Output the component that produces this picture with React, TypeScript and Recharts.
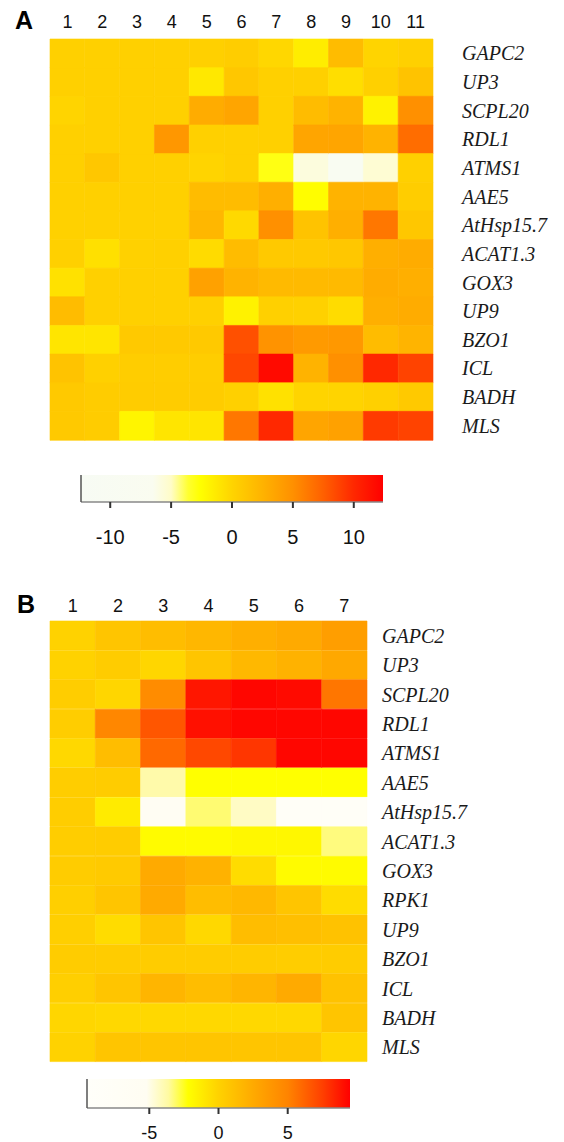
import React from 'react';
import { BarChart, Bar, XAxis, YAxis, Cell } from 'recharts';

// ---------- Data ----------
const genesA = ['GAPC2', 'UP3', 'SCPL20', 'RDL1', 'ATMS1', 'AAE5', 'AtHsp15.7', 'ACAT1.3', 'GOX3', 'UP9', 'BZO1', 'ICL', 'BADH', 'MLS'];
const colsA = ['1', '2', '3', '4', '5', '6', '7', '8', '9', '10', '11'];
const valuesA = [
  [0.3, 0.3, 0.3, 0.3, 0.3, 0.5, -0.2, -1.5, 1.8, 0.0, 0.3],
  [0.3, 0.3, 0.3, 0.3, -1.2, 1.0, 0.3, 0.3, -0.6, 0.3, 1.3],
  [0.0, 0.3, 0.3, 0.3, 3.0, 3.5, 0.3, 1.8, 2.5, -1.8, 5.0],
  [0.3, 0.3, 0.3, 4.5, 0.3, 0.3, 0.3, 3.5, 3.5, 2.5, 6.8],
  [0.3, 1.0, 0.3, 0.3, 0.0, 0.3, -3.0, -5.8, -9.0, -5.4, 0.3],
  [0.3, 0.3, 0.3, 0.3, 1.8, 1.8, 2.8, -2.5, 2.5, 2.5, 0.5],
  [0.2, 0.2, 0.2, 0.2, 2.2, -0.3, 5.0, 1.3, 2.8, 6.3, 1.0],
  [0.3, -0.7, 0.2, 0.3, -0.4, 1.8, 0.8, 0.8, 1.0, 2.8, 3.0],
  [-0.8, 0.3, 0.3, 0.3, 3.8, 2.5, 2.0, 2.0, 2.0, 3.0, 2.8],
  [1.8, 0.3, 0.3, 0.3, 0.3, -1.8, 0.3, 0.2, -0.5, 2.8, 3.0],
  [-1.0, -1.0, 0.8, 0.8, 0.8, 8.2, 4.8, 4.3, 4.4, 1.8, 2.4],
  [1.3, 0.3, 0.5, 0.5, 0.5, 8.6, 11.8, 2.5, 5.0, 10.0, 8.8],
  [0.8, 0.6, 0.6, 0.6, 0.6, 0.3, -0.8, 0.0, 0.0, 0.3, 0.8],
  [0.8, 0.6, -2.0, -1.0, -1.0, 6.3, 10.0, 3.5, 3.8, 9.2, 8.8],
];
const rangeA: [number, number] = [-12.4, 12.4];
const ticksA = [-10, -5, 0, 5, 10];

const genesB = ['GAPC2', 'UP3', 'SCPL20', 'RDL1', 'ATMS1', 'AAE5', 'AtHsp15.7', 'ACAT1.3', 'GOX3', 'RPK1', 'UP9', 'BZO1', 'ICL', 'BADH', 'MLS'];
const colsB = ['1', '2', '3', '4', '5', '6', '7'];
const valuesB = [
  [0.0, 0.8, 1.3, 1.7, 2.2, 2.5, 3.3],
  [0.0, 0.4, -0.2, 0.8, 1.6, 2.0, 2.6],
  [0.3, -0.2, 4.5, 8.8, 9.3, 9.2, 5.5],
  [0.3, 4.8, 6.7, 9.0, 9.3, 9.3, 9.3],
  [-0.3, 1.3, 6.0, 7.2, 7.8, 9.3, 9.3],
  [0.3, 0.4, -3.8, -2.2, -2.2, -2.2, -2.2],
  [0.3, -1.2, -6.0, -3.2, -4.3, -8.0, -8.0],
  [0.3, 0.4, -2.0, -2.0, -1.8, -1.8, -3.3],
  [0.4, 0.5, 2.5, 2.0, -0.5, -2.0, -2.0],
  [0.2, 0.8, 2.5, 1.3, 1.6, 0.8, -0.5],
  [0.2, -0.5, 0.8, -0.3, 1.3, 1.2, 1.0],
  [0.4, 0.4, 0.4, 0.4, 0.4, 0.3, 0.4],
  [0.2, 0.8, 1.8, 1.3, 1.8, 2.5, 1.0],
  [-0.2, -0.3, -0.3, -0.3, -0.3, -0.3, 0.8],
  [0.0, 0.8, 0.8, 0.8, 0.8, 0.8, -0.2],
];
const rangeB: [number, number] = [-9.5, 9.5];
const ticksB = [-5, 0, 5];

// ---------- Colour scales (style) ----------
type Stop = [number, string];
const stopsA: Stop[] = [
  [-12.4, '#f7fbf4'], [-6.5, '#fafcf0'], [-5.0, '#fffcc8'], [-3.6, '#ffff30'], [-2.6, '#ffff00'],
  [0, '#ffd400'], [2.5, '#ffb300'], [5, '#ff9000'], [7.5, '#ff6000'], [10, '#ff2800'], [12.4, '#ff0000'],
];
const stopsB: Stop[] = [
  [-9.5, '#fffffa'], [-5.2, '#fffdf2'], [-3.6, '#fffaa0'], [-2.2, '#ffff00'],
  [0, '#ffd200'], [2.5, '#ffaa00'], [5, '#ff8400'], [7.5, '#ff4000'], [9.5, '#ff0000'],
];

function hexToRgb(h: string) {
  return [parseInt(h.slice(1, 3), 16), parseInt(h.slice(3, 5), 16), parseInt(h.slice(5, 7), 16)];
}
function heatColor(v: number, stops: Stop[]) {
  if (v <= stops[0][0]) return stops[0][1];
  if (v >= stops[stops.length - 1][0]) return stops[stops.length - 1][1];
  for (let i = 0; i < stops.length - 1; i++) {
    const [v0, c0] = stops[i];
    const [v1, c1] = stops[i + 1];
    if (v >= v0 && v <= v1) {
      const t = (v - v0) / (v1 - v0);
      const a = hexToRgb(c0);
      const b = hexToRgb(c1);
      const m = a.map((x, k) => Math.round(x + (b[k] - x) * t));
      return `rgb(${m[0]},${m[1]},${m[2]})`;
    }
  }
  return stops[0][1];
}

const SANS = '"Liberation Sans", Arial, sans-serif';
const SERIF = '"Liberation Serif", "Times New Roman", serif';

function Heatmap(props: {
  genes: string[]; cols: string[]; values: number[][]; stops: Stop[];
  width: number; height: number; margin: any; xTickMargin: number; yTickMargin: number;
}) {
  const { genes, cols, values, stops, width, height, margin, xTickMargin, yTickMargin } = props;
  const data = genes.map((g, i) => {
    const row: any = { gene: g };
    cols.forEach((_, j) => {
      row['c' + j] = 1;
      row['v' + j] = values[i][j];
    });
    return row;
  });
  return (
    <BarChart layout="vertical" width={width} height={height} data={data} margin={margin} barCategoryGap={0}>
      <XAxis
        type="number"
        orientation="top"
        domain={[0, cols.length]}
        ticks={cols.map((_, j) => j + 0.5)}
        tickFormatter={(v: number) => cols[Math.floor(v)]}
        interval={0}
        axisLine={false}
        tickLine={false}
        tickSize={0}
        tickMargin={xTickMargin}
        height={30}
        tick={{ fontSize: 18, fill: '#111', fontFamily: SANS }}
      />
      <YAxis
        type="category"
        dataKey="gene"
        orientation="right"
        width={120}
        interval={0}
        axisLine={false}
        tickLine={false}
        tickSize={0}
        tickMargin={yTickMargin}
        tick={{ fontSize: 20, fontStyle: 'italic', fill: '#1a1a1a', fontFamily: SERIF }}
      />
      {cols.map((c, j) => (
        <Bar key={c} dataKey={'c' + j} stackId="s" isAnimationActive={false}>
          {data.map((row, i) => {
            const col = heatColor(row['v' + j], stops);
            return <Cell key={i} fill={col} stroke={col} strokeWidth={0.6} />;
          })}
        </Bar>
      ))}
    </BarChart>
  );
}

function ColorBar(props: {
  id: string; range: [number, number]; ticks: number[]; stops: Stop[];
  width: number; height: number; margin: any; fontSize: number; tickMargin: number; axisHeight: number;
}) {
  const { id, range, ticks, stops, width, height, margin, fontSize, tickMargin, axisHeight } = props;
  const data = [{ name: 'scale', span: range }];
  return (
    <BarChart layout="vertical" width={width} height={height} data={data} margin={margin} barCategoryGap={0}>
      <defs>
        <linearGradient id={id} x1="0" y1="0" x2="1" y2="0">
          {stops.map(([v, c], i) => (
            <stop key={i} offset={(v - range[0]) / (range[1] - range[0])} stopColor={c} />
          ))}
        </linearGradient>
      </defs>
      <XAxis
        type="number"
        domain={range}
        ticks={ticks}
        allowDataOverflow
        interval={0}
        axisLine={{ stroke: '#888', strokeWidth: 1.5 }}
        tickLine={{ stroke: '#333', strokeWidth: 2 }}
        tickSize={6}
        tickMargin={tickMargin}
        height={axisHeight}
        tick={{ fontSize, fill: '#111', fontFamily: SANS }}
      />
      <YAxis type="category" dataKey="name" width={1} tick={false} tickLine={false} axisLine={{ stroke: '#555', strokeWidth: 1.5 }} />
      <Bar dataKey="span" fill={`url(#${id})`} isAnimationActive={false} />
    </BarChart>
  );
}

const panelLabel: React.CSSProperties = {
  position: 'absolute', fontFamily: SANS, fontWeight: 'bold', fontSize: 25, lineHeight: '25px', color: '#000',
};

export default function App() {
  return (
    <div style={{ position: 'absolute', left: 0, top: 0, width: 564, height: 1142, background: '#fff', overflow: 'hidden' }}>
      <div style={{ ...panelLabel, left: 15, top: 8 }}>A</div>
      <div style={{ position: 'absolute', left: 0, top: 0 }}>
        <Heatmap
          genes={genesA} cols={colsA} values={valuesA} stops={stopsA}
          width={564} height={450}
          margin={{ top: 9, right: 11, bottom: 10, left: 50 }}
          xTickMargin={11} yTickMargin={29}
        />
      </div>
      <div style={{ position: 'absolute', left: 0, top: 465 }}>
        <ColorBar
          id="gradA" range={rangeA} ticks={ticksA} stops={stopsA}
          width={564} height={100}
          margin={{ top: 10, right: 181, bottom: 13, left: 80 }}
          fontSize={20} tickMargin={22} axisHeight={50}
        />
      </div>

      <div style={{ ...panelLabel, left: 17, top: 592 }}>B</div>
      <div style={{ position: 'absolute', left: 0, top: 560 }}>
        <Heatmap
          genes={genesB} cols={colsB} values={valuesB} stops={stopsB}
          width={564} height={512}
          margin={{ top: 31, right: 77, bottom: 10, left: 50 }}
          xTickMargin={9} yTickMargin={15}
        />
      </div>
      <div style={{ position: 'absolute', left: 0, top: 1069 }}>
        <ColorBar
          id="gradB" range={rangeB} ticks={ticksB} stops={stopsB}
          width={564} height={73}
          margin={{ top: 10, right: 214, bottom: 0, left: 86 }}
          fontSize={18} tickMargin={12} axisHeight={34}
        />
      </div>
    </div>
  );
}
